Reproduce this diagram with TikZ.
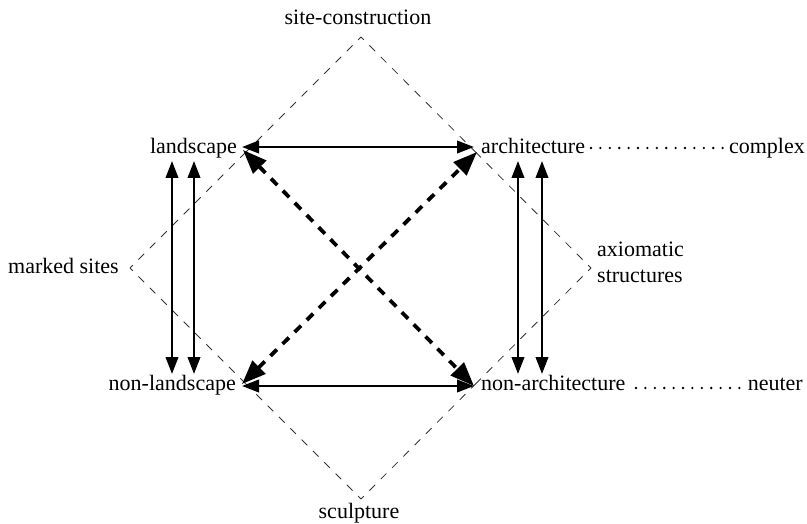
\documentclass[tikz,border=0pt]{standalone}
\usepackage{fontspec}
\setmainfont{Liberation Serif}
\usetikzlibrary{arrows.meta,calc}
\begin{document}
\begin{tikzpicture}[x=1pt,y=-1pt,
  lbl/.style={inner sep=0pt,font=\fontsize{22}{26}\selectfont},
  dbl/.style={line width=2.3pt,{Triangle[length=17pt,width=12.5pt]}-{Triangle[length=17pt,width=12.5pt]}},
  diag/.style={line width=3.8pt,dash pattern=on 9pt off 8pt,{Triangle[length=24pt,width=18pt]}-{Triangle[length=24pt,width=18pt]}},
  frame/.style={line width=0.8pt,black!80,dash pattern=on 8pt off 8pt,dash phase=4pt},
  leader/.style={line width=2.6pt,line cap=round,dash pattern=on 0pt off 9.4pt}]
\useasboundingbox (0,0) rectangle (807,524);
% labels
\node[lbl,anchor=base east] (ls) at (237,154) {landscape};
\node[lbl,anchor=base west] (ar) at (481,154) {architecture};
\node[lbl,anchor=base east] (nls) at (236,390) {non-landscape};
\node[lbl,anchor=base west] (nar) at (481,390) {non-architecture};
\node[lbl,anchor=base east] (cx) at (805,154) {complex};
\node[lbl,anchor=base east] (ne) at (803,390) {neuter};
\node[lbl,anchor=base] (sc) at (358,25) {site-construction};
\node[lbl,anchor=base] (sp) at (359,518) {sculpture};
\node[lbl,anchor=base west] (ms) at (8,273) {marked sites};
\node[lbl,anchor=north west,align=left] (ax) at (597,242) {axiomatic\\structures};
% diamond vertices
\coordinate (T) at (361,37);
\coordinate (L) at (130,268);
\coordinate (B) at (361,499);
\coordinate (R) at (591,268);
\foreach \a/\b in {T/L,T/R,L/T,L/B,B/L,B/R,R/T,R/B}
  \draw[frame] (\a) -- ($(\a)!0.5!(\b)$);
% leaders
\coordinate (ld1) at (591,148);
\coordinate (ld2) at (724,148);
\coordinate (ld3) at (636,388);
\coordinate (ld4) at (744,388);
\draw[leader] (ld1) -- (ld2);
\draw[leader] (ld3) -- (ld4);
% arrow end points
\coordinate (h1a) at (242,147);
\coordinate (h1b) at (474,147);
\coordinate (h2a) at (242,386);
\coordinate (h2b) at (474,386);
\coordinate (v1a) at (172,161);
\coordinate (v1b) at (172,374);
\coordinate (v2a) at (194,161);
\coordinate (v2b) at (194,374);
\coordinate (v3a) at (518,161);
\coordinate (v3b) at (518,374);
\coordinate (v4a) at (542,161);
\coordinate (v4b) at (542,374);
\coordinate (d1a) at (243,150);
\coordinate (d1b) at (474,386);
\coordinate (d2a) at (242,384);
\coordinate (d2b) at (477,152);
\draw[dbl] (h1a) -- (h1b);
\draw[dbl] (h2a) -- (h2b);
\draw[dbl] (v1a) -- (v1b);
\draw[dbl] (v2a) -- (v2b);
\draw[dbl] (v3a) -- (v3b);
\draw[dbl] (v4a) -- (v4b);
\draw[diag] (d1a) -- (d1b);
\draw[diag] (d2a) -- (d2b);
\end{tikzpicture}
\end{document}
